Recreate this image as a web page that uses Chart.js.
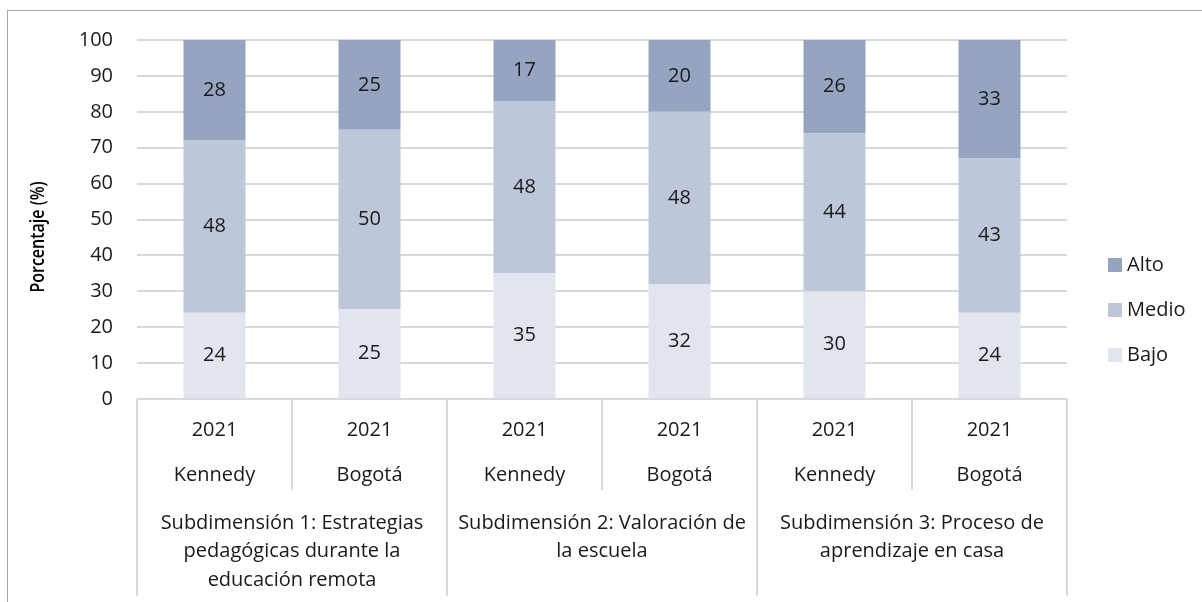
<!DOCTYPE html>
<html>
<head>
<meta charset="utf-8">
<script src="https://cdn.jsdelivr.net/npm/chart.js@4.4.0/dist/chart.umd.min.js"></script>
<style>
  html, body { margin:0; padding:0; background:#fff; overflow:hidden; }
  #wrap { position:relative; width:1202px; height:602px; }
  #frame { position:absolute; left:7px; top:10px; width:1300px; height:700px; border:1px solid #a6a6a6; box-sizing:border-box; pointer-events:none; }
  canvas { position:absolute; left:0; top:0; }
</style>
</head>
<body>
<div id="wrap">
  <canvas id="chart" width="1202" height="602"></canvas>
  <div id="frame"></div>
</div>
<script>
const years = ['2021', '2021', '2021', '2021', '2021', '2021'];
const places = ['Kennedy', 'Bogotá', 'Kennedy', 'Bogotá', 'Kennedy', 'Bogotá'];
const groups = [
  ['Subdimensión 1: Estrategias', 'pedagógicas durante la', 'educación remota'],
  ['Subdimensión 2: Valoración de', 'la escuela'],
  ['Subdimensión 3: Proceso de', 'aprendizaje en casa']
];
const bajo = [24, 25, 35, 32, 30, 24];
const medio = [48, 50, 48, 48, 44, 43];
const alto = [28, 25, 17, 20, 26, 33];
const yTicks = [0, 10, 20, 30, 40, 50, 60, 70, 80, 90, 100];

const FONT = '"Open Sans", sans-serif';
const TXT = '#1a1a1a';
const LINE = '#d9d9d9';

// category axis with two label rows + grouped third row, and a custom legend
const decor = {
  id: 'decor',
  afterDatasetsDraw(chart) {
    const ctx = chart.ctx;
    const xs = chart.scales.x;
    const area = chart.chartArea;
    const n = years.length;
    const step = (area.right - area.left) / n;

    // value labels
    ctx.save();
    ctx.font = '20px ' + FONT;
    ctx.fillStyle = TXT;
    ctx.textAlign = 'center';
    ctx.textBaseline = 'middle';
    chart.data.datasets.forEach((ds, di) => {
      chart.getDatasetMeta(di).data.forEach((bar, i) => {
        const p = bar.getCenterPoint();
        ctx.fillText(ds.data[i], p.x, p.y);
      });
    });
    ctx.restore();

    // separators
    ctx.save();
    ctx.strokeStyle = LINE;
    ctx.lineWidth = 2;
    for (let i = 0; i <= n; i++) {
      const x = Math.round(area.left + i * step);
      const full = i % 2 === 0;
      ctx.beginPath();
      ctx.moveTo(x, area.bottom);
      ctx.lineTo(x, full ? area.bottom + 197 : area.bottom + 91);
      ctx.stroke();
    }
    ctx.restore();

    // labels
    ctx.save();
    ctx.font = '20px ' + FONT;
    ctx.fillStyle = TXT;
    ctx.textAlign = 'center';
    ctx.textBaseline = 'middle';
    for (let i = 0; i < n; i++) {
      const x = xs.getPixelForValue(i);
      ctx.fillText(years[i], x, area.bottom + 31);
      ctx.fillText(places[i], x, area.bottom + 76);
    }
    groups.forEach((lines, g) => {
      const x = area.left + (g * 2 + 1) * step;
      lines.forEach((t, k) => ctx.fillText(t, x, area.bottom + 124 + k * 28.5));
    });
    ctx.restore();

    // y axis title (squeezed a bit, the original font is narrower)
    ctx.save();
    ctx.translate(38, 237);
    ctx.rotate(-Math.PI / 2);
    ctx.scale(0.8, 1);
    ctx.font = '600 20px ' + FONT;
    ctx.fillStyle = '#000';
    ctx.textAlign = 'center';
    ctx.textBaseline = 'middle';
    ctx.fillText('Porcentaje (%)', 0, 0);
    ctx.restore();

    // legend (reversed order)
    ctx.save();
    ctx.font = '20px ' + FONT;
    ctx.textAlign = 'left';
    ctx.textBaseline = 'middle';
    const items = chart.data.datasets.slice().reverse();
    items.forEach((ds, k) => {
      const y = 265 + k * 45;
      ctx.fillStyle = ds.backgroundColor;
      ctx.fillRect(1108, y - 7, 14, 14);
      ctx.fillStyle = TXT;
      ctx.fillText(ds.label, 1127, y);
    });
    ctx.restore();
  }
};

new Chart(document.getElementById('chart'), {
  type: 'bar',
  data: {
    labels: places,
    datasets: [
      { label: 'Bajo', data: bajo, backgroundColor: '#e0e5ee' },
      { label: 'Medio', data: medio, backgroundColor: '#bec7d9' },
      { label: 'Alto', data: alto, backgroundColor: '#95a4c0' }
    ]
  },
  options: {
    responsive: false,
    animation: false,
    layout: { padding: { left: 0, top: 40, right: 135, bottom: 203 } },
    plugins: { legend: { display: false }, tooltip: { enabled: false } },
    datasets: { bar: { barPercentage: 0.4, categoryPercentage: 1.0 } },
    scales: {
      x: { stacked: true, display: false },
      y: {
        stacked: true, min: 0, max: 100,
        afterFit(scale) { scale.width = 137; },
        afterBuildTicks(scale) { scale.ticks = yTicks.map(v => ({ value: v })); },
        grid: { color: LINE, lineWidth: 2, drawTicks: false },
        border: { display: false },
        ticks: { padding: 24, color: TXT, font: { family: FONT, size: 20 } }
      }
    }
  },
  plugins: [decor]
});
</script>
</body>
</html>
